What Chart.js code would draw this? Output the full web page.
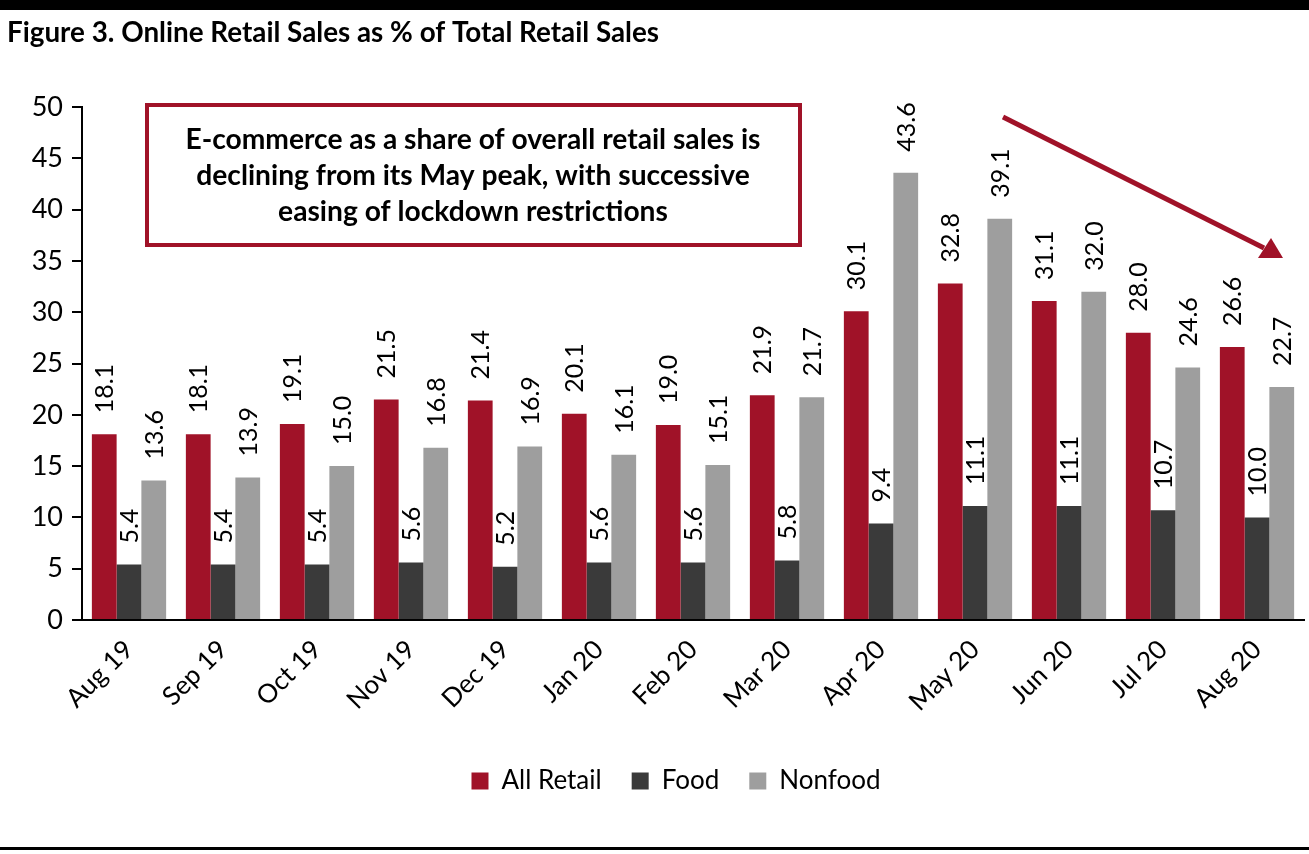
<!DOCTYPE html>
<html>
<head>
<meta charset="utf-8">
<script src="https://cdn.jsdelivr.net/npm/chart.js@4.4.0/dist/chart.umd.min.js"></script>
<style>
html,body{margin:0;padding:0;background:#fff;}
</style>
</head>
<body>
<canvas id="myBarChart" width="1309" height="854"></canvas>
<script>
const months = ["Aug 19","Sep 19","Oct 19","Nov 19","Dec 19","Jan 20","Feb 20","Mar 20","Apr 20","May 20","Jun 20","Jul 20","Aug 20"];
const allRetail = [18.1,18.1,19.1,21.5,21.4,20.1,19.0,21.9,30.1,32.8,31.1,28.0,26.6];
const food = [5.4,5.4,5.4,5.6,5.2,5.6,5.6,5.8,9.4,11.1,11.1,10.7,10.0];
const nonfood = [13.6,13.9,15.0,16.8,16.9,16.1,15.1,21.7,43.6,39.1,32.0,24.6,22.7];
const seriesNames = ["All Retail","Food","Nonfood"];
const yMin = 0, yMax = 50, yStep = 5;

const titleText = "Figure 3. Online Retail Sales as % of Total Retail Sales";
const noteLines = [
    "E-commerce as a share of overall retail sales is",
    "declining from its May peak, with successive",
    "easing of lockdown restrictions"
];

const RED = "#A01228";
const DARK = "#3A3A3A";
const GREY = "#9E9E9E";
const FONT = "Lato, 'Open Sans', sans-serif";

// pick a font size so the text is about as wide as in the original
function fitSize(ctx, text, weight, target) {
    ctx.font = `${weight} 100px ${FONT}`;
    const w = ctx.measureText(text).width;
    return Math.round(100 * target / w * 10) / 10;
}

const barLabels = {
    id: 'barLabels',
    afterDatasetsDraw(chart) {
        const ctx = chart.ctx;
        ctx.save();
        ctx.font = `25px ${FONT}`;
        ctx.fillStyle = "#000";
        ctx.textAlign = "left";
        ctx.textBaseline = "middle";
        chart.data.datasets.forEach((ds, i) => {
            chart.getDatasetMeta(i).data.forEach((bar, j) => {
                ctx.save();
                ctx.translate(bar.x + 1, bar.y - 21);
                ctx.rotate(-Math.PI / 2);
                ctx.fillText(ds.data[j].toFixed(1), 0, 0);
                ctx.restore();
            });
        });
        ctx.restore();
    }
};

const decor = {
    id: 'decor',
    afterLayout(chart) {
        // legend sits a bit right of the page centre in the original
        const lg = chart.legend;
        lg.left += 22;
        lg.right += 22;
    },
    beforeDraw(chart) {
        const ctx = chart.ctx;
        ctx.save();
        ctx.fillStyle = "#fff";
        ctx.fillRect(0, 0, chart.width, chart.height);
        ctx.restore();
    },
    afterDraw(chart) {
        const ctx = chart.ctx;
        ctx.save();
        // top band and bottom rule
        ctx.fillStyle = "#000";
        ctx.fillRect(0, 0, chart.width, 10);
        ctx.fillRect(0, 847, chart.width, 3);

        // title
        const ts = fitSize(ctx, titleText, "bold", 652);
        ctx.font = `bold ${ts}px ${FONT}`;
        ctx.textAlign = "left";
        ctx.textBaseline = "middle";
        ctx.fillText(titleText, 7, 33);

        // note box
        ctx.strokeStyle = RED;
        ctx.lineWidth = 4;
        ctx.strokeRect(147, 105, 653, 140);
        const ns = fitSize(ctx, noteLines[0], "bold", 575);
        ctx.font = `bold ${ns}px ${FONT}`;
        ctx.textAlign = "center";
        noteLines.forEach((l, i) => ctx.fillText(l, 473, 140 + i * 36));

        // arrow
        ctx.strokeStyle = RED;
        ctx.lineWidth = 5;
        ctx.beginPath();
        ctx.moveTo(1003, 117);
        ctx.lineTo(1264, 248);
        ctx.stroke();
        ctx.fillStyle = RED;
        ctx.beginPath();
        ctx.moveTo(1283, 258);
        ctx.lineTo(1258, 258);
        ctx.lineTo(1271, 238);
        ctx.closePath();
        ctx.fill();
        ctx.restore();
    }
};

const ctx = document.getElementById("myBarChart");
new Chart(ctx, {
    type: 'bar',
    data: {
        labels: months,
        datasets: [
            { label: seriesNames[0], data: allRetail, backgroundColor: RED },
            { label: seriesNames[1], data: food, backgroundColor: DARK },
            { label: seriesNames[2], data: nonfood, backgroundColor: GREY }
        ]
    },
    options: {
        responsive: false,
        animation: false,
        events: [],
        categoryPercentage: 0.79,
        barPercentage: 1.0,
        layout: { padding: { top: 107, left: 4, right: 5, bottom: 50 } },
        scales: {
            x: {
                grid: { display: false, drawTicks: false },
                border: { display: true, color: "#000", width: 2 },
                ticks: {
                    color: "#000",
                    font: { family: FONT, size: 26 },
                    maxRotation: 45,
                    minRotation: 45,
                    padding: 14
                },
                afterFit(scale) {
                    scale.height = 118;
                    scale.paddingLeft = 0;
                    scale.paddingRight = 0;
                }
            },
            y: {
                min: yMin,
                max: yMax,
                grid: { drawOnChartArea: false, drawTicks: true, tickLength: 10, color: "#000", lineWidth: 2 },
                border: { display: true, color: "#000", width: 2 },
                ticks: {
                    stepSize: yStep,
                    color: "#000",
                    font: { family: FONT, size: 27 },
                    padding: 9
                },
                afterFit(scale) {
                    scale.width = 78;
                    scale.paddingTop = 0;
                    scale.paddingBottom = 0;
                }
            }
        },
        plugins: {
            legend: {
                position: 'bottom',
                labels: {
                    color: "#000",
                    font: { family: FONT, size: 26 },
                    boxWidth: 17,
                    boxHeight: 17,
                    padding: 30
                }
            },
            tooltip: { enabled: false },
            title: { display: false }
        }
    },
    plugins: [barLabels, decor]
});
</script>
</body>
</html>
